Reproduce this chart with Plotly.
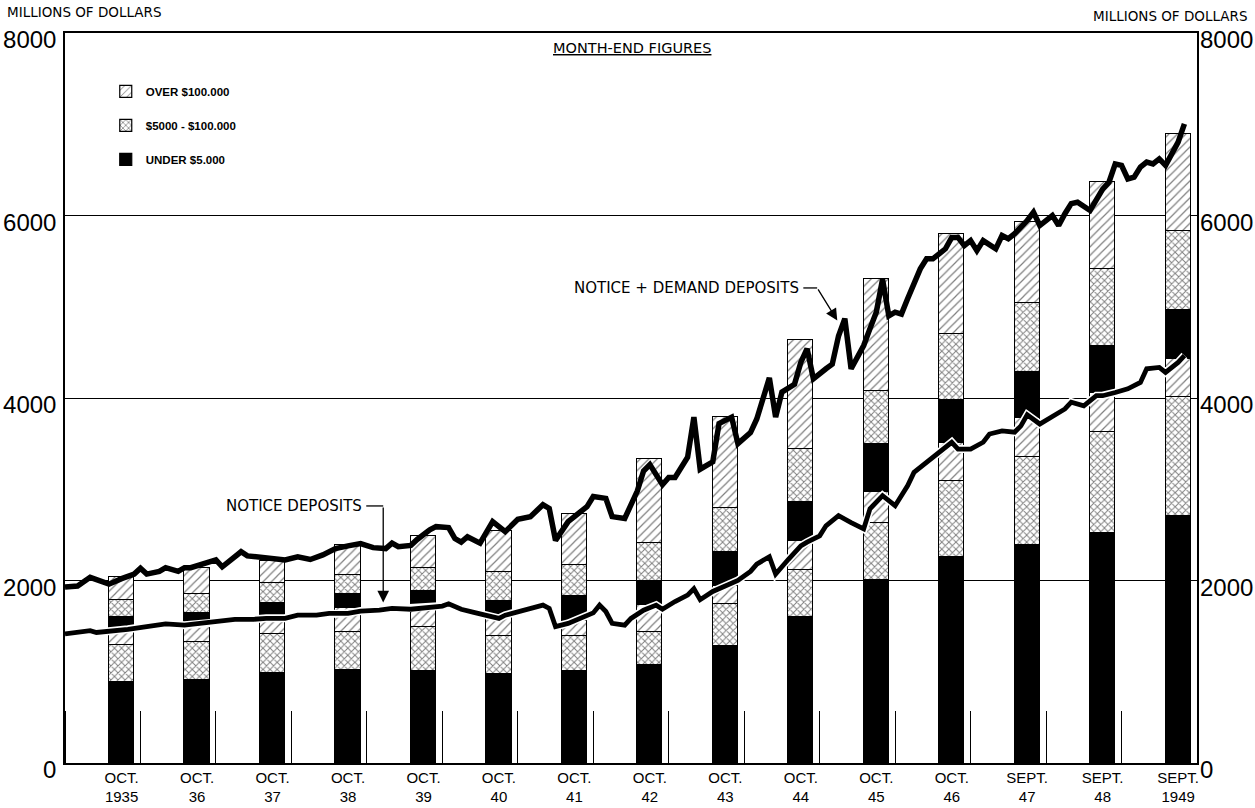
import plotly.graph_objects as go

# x is counted in months, 0 = Jan 1935 (left edge), 180 = Jan 1950
bar_month = [9, 21, 33, 45, 57, 69, 81, 93, 105, 117, 129, 141, 153, 165, 177]
bar_labels = ["OCT.<br>1935", "OCT.<br>36", "OCT.<br>37", "OCT.<br>38", "OCT.<br>39",
              "OCT.<br>40", "OCT.<br>41", "OCT.<br>42", "OCT.<br>43", "OCT.<br>44",
              "OCT.<br>45", "OCT.<br>46", "SEPT.<br>47", "SEPT.<br>48", "SEPT.<br>1949"]

# notice deposits by size of account (millions)
notice_under = [890, 910, 990, 1020, 1010, 980, 1010, 1070, 1280, 1600, 2010, 2260, 2390, 2520, 2710]
notice_mid = [400, 420, 420, 420, 480, 410, 380, 370, 460, 520, 620, 830, 960, 1110, 1300]
notice_over = [150, 190, 190, 260, 250, 210, 170, 290, 200, 310, 340, 420, 430, 430, 420]
# demand deposits by size of account
demand_under = [160, 120, 150, 150, 150, 180, 270, 260, 370, 430, 530, 470, 500, 510, 530]
demand_mid = [190, 210, 220, 210, 250, 310, 340, 420, 480, 580, 580, 720, 760, 840, 870]
demand_over = [250, 290, 240, 330, 350, 450, 560, 920, 1000, 1200, 1220, 1100, 890, 960, 1060]

# month-end totals, notice + demand
total_m = [0, 2, 4, 6, 7, 9, 10, 11, 12, 13, 15, 16, 18, 19, 20, 22, 24, 25, 27, 28, 29, 31, 33, 35,
           37, 39, 41, 43, 45, 47, 49, 51, 52, 53, 55, 56, 58, 59, 61, 62, 63, 64, 66, 68, 70, 72,
           74, 76, 77, 78, 80, 81, 83, 84, 86, 87, 89, 91, 92, 93, 95, 96, 97, 99, 100, 101, 103,
           104, 106, 107, 109, 110, 112, 113, 114, 116, 117, 118, 119, 121, 122, 123, 124, 125,
           127, 128, 129, 130, 131, 132, 133, 134, 136, 137, 138, 140, 141, 142, 143, 144, 145,
           146, 148, 149, 150, 151, 152, 153, 154, 155, 157, 158, 159, 160, 161, 163, 165, 166,
           167, 168, 169, 170, 171, 172, 173, 174, 175, 177, 178]
total_v = [1930, 1940, 2035, 1985, 1960, 2020, 2040, 2070, 2135, 2070, 2100, 2140, 2100, 2140, 2140,
           2190, 2225, 2150, 2260, 2315, 2270, 2255, 2255, 2225, 2260, 2230, 2280, 2350, 2380, 2405,
           2360, 2350, 2410, 2370, 2385, 2450, 2555, 2590, 2580, 2460, 2420, 2480, 2410, 2645, 2535,
           2670, 2700, 2830, 2790, 2440, 2645, 2700, 2810, 2920, 2900, 2700, 2680, 2980, 3200, 3270,
           3050, 3130, 3130, 3350, 3790, 3220, 3300, 3720, 3790, 3500, 3620, 3770, 4220, 3790, 4065,
           4150, 4390, 4540, 4210, 4320, 4370, 4680, 4870, 4320, 4575, 4760, 4940, 5300, 4900, 4940,
           4920, 5090, 5415, 5525, 5525, 5635, 5760, 5760, 5670, 5725, 5615, 5725, 5635, 5780, 5745,
           5800, 5870, 5945, 6035, 5890, 6000, 5890, 6020, 6130, 6145, 6055, 6290, 6365, 6565, 6550,
           6400, 6420, 6530, 6585, 6565, 6620, 6550, 6805, 7005]

# month-end notice deposits
notice_m = [0, 2, 4, 5, 7, 10, 13, 16, 19, 22, 24, 27, 30, 32, 35, 37, 40, 42, 45, 47, 50, 52, 55,
            57, 60, 61, 63, 65, 67, 69, 70, 72, 74, 76, 77, 78, 80, 82, 84, 85, 86, 87, 89, 90, 92,
            94, 95, 97, 99, 100, 101, 103, 105, 107, 109, 110, 112, 113, 115, 117, 118, 120, 121,
            123, 125, 127, 128, 130, 132, 134, 135, 137, 139, 141, 142, 144, 146, 147, 149, 151,
            152, 153, 155, 157, 159, 160, 162, 164, 165, 167, 169, 171, 172, 174, 175, 177, 178]
notice_v = [1415, 1430, 1450, 1430, 1440, 1465, 1495, 1525, 1510, 1530, 1550, 1575, 1575, 1585,
            1585, 1620, 1620, 1640, 1640, 1665, 1675, 1695, 1685, 1695, 1720, 1745, 1685, 1650,
            1620, 1585, 1620, 1660, 1695, 1730, 1695, 1495, 1530, 1585, 1645, 1730, 1660, 1530,
            1510, 1585, 1675, 1730, 1685, 1770, 1840, 1910, 1790, 1880, 1935, 2000, 2100, 2180,
            2260, 2070, 2230, 2380, 2420, 2490, 2600, 2710, 2635, 2565, 2785, 2930, 2820, 3040,
            3185, 3295, 3405, 3515, 3440, 3440, 3515, 3605, 3640, 3625, 3695, 3815, 3715, 3790,
            3880, 3955, 3915, 4025, 4025, 4060, 4100, 4170, 4320, 4335, 4280, 4390, 4465]

FONT = "Liberation Sans"
LETTER = "DejaVu Sans"

fig = go.Figure()

segments = [
    ("notice", notice_under, "UNDER $5.000", dict(color="black")),
    ("notice", notice_mid, "$5000 - $100.000",
     dict(color="white", pattern=dict(shape="x", fgcolor="black", bgcolor="white", size=5, solidity=0.35))),
    ("notice", notice_over, "OVER $100.000",
     dict(color="white", pattern=dict(shape="/", fgcolor="black", bgcolor="white", size=6, solidity=0.2))),
    ("demand", demand_under, "UNDER $5.000", dict(color="black")),
    ("demand", demand_mid, "$5000 - $100.000",
     dict(color="white", pattern=dict(shape="x", fgcolor="black", bgcolor="white", size=5, solidity=0.35))),
    ("demand", demand_over, "OVER $100.000",
     dict(color="white", pattern=dict(shape="/", fgcolor="black", bgcolor="white", size=6, solidity=0.2))),
]
ranks = {"OVER $100.000": 1, "$5000 - $100.000": 2, "UNDER $5.000": 3}
for kind, vals, name, mk in segments:
    mk = dict(mk)
    mk["line"] = dict(color="black", width=1.2)
    fig.add_trace(go.Bar(
        x=bar_month, y=vals, width=4, name=name, marker=mk,
        showlegend=(kind == "notice"), legendgroup=name, legendrank=ranks[name],
        hoverinfo="skip",
    ))

fig.add_trace(go.Scatter(x=total_m, y=total_v, mode="lines",
                         line=dict(color="black", width=5.5), showlegend=False))
# notice line with a thin white halo where it crosses the bars
fig.add_trace(go.Scatter(x=notice_m, y=notice_v, mode="lines", yaxis="y2",
                         line=dict(color="white", width=8), showlegend=False))
fig.add_trace(go.Scatter(x=notice_m, y=notice_v, mode="lines", yaxis="y2",
                         line=dict(color="black", width=4.8), showlegend=False))

fig.update_layout(
    width=1255, height=808,
    margin=dict(l=65, r=58, t=33, b=45),
    paper_bgcolor="white", plot_bgcolor="white",
    barmode="stack", bargap=0,
    font=dict(family=FONT, color="black"),
    xaxis=dict(range=[0, 180], showgrid=False, zeroline=False, automargin=False,
               showline=True, linecolor="black", linewidth=1.5, mirror=True,
               tickmode="array", tickvals=bar_month, ticktext=bar_labels, ticks="",
               tickfont=dict(size=15, family=FONT),
               minor=dict(tickmode="linear", tick0=12, dtick=12, ticks="inside",
                          ticklen=52, tickcolor="black", tickwidth=1)),
    yaxis=dict(range=[0, 8000], tickvals=[0, 2000, 4000, 6000, 8000], ticks="",
               showgrid=True, gridcolor="black", gridwidth=1, zeroline=False, automargin=False,
               showline=True, linecolor="black", linewidth=1.5, mirror=True,
               tickfont=dict(size=24, family=FONT), ticklabelstandoff=2, ticklabelshift=7),
    yaxis2=dict(range=[0, 8000], overlaying="y", side="right", matches="y", automargin=False,
                tickvals=[0, 2000, 4000, 6000, 8000], ticks="", showgrid=False,
                zeroline=False, tickfont=dict(size=24, family=FONT), ticklabelstandoff=2,
                ticklabelshift=7),
    legend=dict(x=0.036, y=0.94, xanchor="left", yanchor="top", bgcolor="rgba(0,0,0,0)",
                font=dict(size=11.5, family=FONT, weight="bold"), tracegroupgap=15,
                itemwidth=30),
    showlegend=True,
)

fig.add_annotation(text="MILLIONS OF DOLLARS", xref="paper", yref="paper", x=-0.053, y=1.029,
                   xanchor="left", yanchor="middle", showarrow=False, font=dict(size=13.5, family=LETTER))
fig.add_annotation(text="MILLIONS OF DOLLARS", xref="paper", yref="paper", x=1.046, y=1.023,
                   xanchor="right", yanchor="middle", showarrow=False, font=dict(size=13.5, family=LETTER))
fig.add_annotation(text="<u>MONTH-END FIGURES</u>", xref="paper", yref="paper", x=0.501, y=0.979,
                   xanchor="center", yanchor="middle", showarrow=False, font=dict(size=14.5, family=LETTER))

# labels with leaders and arrows
fig.add_annotation(text="NOTICE + DEMAND DEPOSITS", x=117, y=5206, xanchor="right",
                   yanchor="middle", showarrow=False, font=dict(size=15, family=LETTER))
fig.add_shape(type="line", x0=117.4, y0=5206, x1=119.6, y1=5206, line=dict(color="black", width=1.3))
fig.add_annotation(text="", x=122.8, y=4850, ax=119.6, ay=5206, axref="x", ayref="y",
                   showarrow=True, arrowhead=2, arrowsize=1.8, arrowwidth=1.3, arrowcolor="black")
fig.add_annotation(text="NOTICE DEPOSITS", x=47.5, y=2817, xanchor="right",
                   yanchor="middle", showarrow=False, font=dict(size=15, family=LETTER))
fig.add_shape(type="line", x0=47.9, y0=2817, x1=50.6, y1=2817, line=dict(color="black", width=1.3))
fig.add_annotation(text="", x=50.6, y=1760, ax=50.6, ay=2817, axref="x", ayref="y",
                   showarrow=True, arrowhead=2, arrowsize=1.8, arrowwidth=1.3, arrowcolor="black")

# the page body has a default 8px margin; drop it so the figure fills the window
fig.write_html("out.html", config={"displayModeBar": False},
               post_script="document.body.style.margin = '0px';")
